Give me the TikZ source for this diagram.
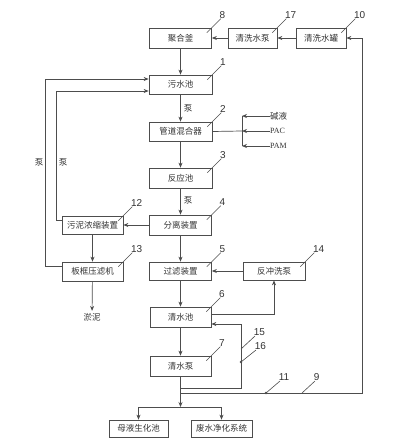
\documentclass[tikz,border=0pt]{standalone}
\usepackage{fontspec}
\setmainfont{Liberation Serif}
\newfontfamily\cjk{Noto Sans CJK SC}
\newfontfamily\numfont{Liberation Sans}
\usetikzlibrary{arrows.meta}
\definecolor{linecol}{HTML}{4D4D4D}
\definecolor{txtcol}{HTML}{333333}
\begin{document}
\begin{tikzpicture}[x=1pt,y=-1pt,
 box/.style={draw=linecol, line width=0.7pt, minimum height=20pt, inner sep=0pt, font=\cjk\fontsize{8.5}{9}\selectfont, text=txtcol},
 arr/.style={draw=linecol, line width=0.7pt, -{Stealth[length=5pt,width=4pt]}},
 plain/.style={draw=linecol, line width=0.7pt},
 num/.style={font=\numfont\fontsize{10}{11}\selectfont, text=txtcol, inner sep=0pt, anchor=south west, xshift=-1.5pt},
 lead/.style={draw=linecol, line width=0.6pt},
 lbl/.style={font=\cjk\fontsize{8.5}{9}\selectfont, text=txtcol, inner sep=0pt},
 latin/.style={font=\rmfamily\fontsize{8}{9}\selectfont, text=txtcol, inner sep=0pt},
]
\useasboundingbox (0,0) rectangle (403,447);
\fill[white] (0,0) rectangle (403,447);

% boxes
\node[box, minimum width=62pt] (n8) at (180.5,38) {聚合釜};
\node[box, minimum width=49pt] (n17) at (252.5,38) {清洗水泵};
\node[box, minimum width=50pt] (n10) at (321,38) {清洗水罐};
\node[box, minimum width=63pt, minimum height=19pt] (n1) at (180.5,84.5) {污水池};
\node[box, minimum width=63pt, minimum height=19pt] (n2) at (180.5,131.5) {管道混合器};
\node[box, minimum width=63pt] (n3) at (180.5,178) {反应池};
\node[box, minimum width=62pt] (n4) at (180.5,225) {分离装置};
\node[box, minimum width=61pt, minimum height=18pt] (n12) at (92.5,225) {污泥浓缩装置};
\node[box, minimum width=61pt, minimum height=19pt] (n13) at (92.5,271.5) {板框压滤机};
\node[box, minimum width=62pt, minimum height=18pt] (n5) at (180.5,271) {过滤装置};
\node[box, minimum width=62pt, minimum height=18pt] (n14) at (274,271) {反冲洗泵};
\node[box, minimum width=61pt] (n6) at (180.5,317) {清水池};
\node[box, minimum width=61pt] (n7) at (180.5,366) {清水泵};
\node[box, minimum width=59pt, minimum height=17pt] (n18) at (138.5,428.5) {母液生化池};
\node[box, minimum width=61pt, minimum height=17pt] (n19) at (221.5,428.5) {废水净化系统};

% free texts
\node[lbl, inner sep=2pt] (yn) at (92,317) {淤泥};
\node[lbl, anchor=west] (jy) at (270,116) {碱液};
\node[latin, anchor=west] (pac) at (270,131) {PAC};
\node[latin, anchor=west] (pam) at (270,146) {PAM};
\node[lbl] (p1) at (188,108) {泵};
\node[lbl] (p2) at (188,200) {泵};
\node[lbl] (p3) at (39,162) {泵};
\node[lbl] (p4) at (63,162) {泵};

% coordinates
\coordinate (c1) at (242,116);
\coordinate (c2) at (242,131);
\coordinate (c3) at (242,146);
\coordinate (j1) at (180.5,388);
\coordinate (j2) at (180.5,393);
\coordinate (sp) at (180.5,407);

% top row
\draw[arr] (n10) -- (n17);
\draw[arr] (n17) -- (n8);
\draw[arr] (n8) -- (n1);

% main column
\draw[arr] (n1) -- (n2);
\draw[arr] (n2) -- (n3);
\draw[arr] (n3) -- (n4);
\draw[arr] (n4) -- (n5);
\draw[arr] (n5) -- (n6);
\draw[arr] (n6) -- (n7);

% chemicals
\draw[plain] (n2.east) -- (c2);
\draw[plain] (c1) -- (c3);
\draw[arr] (jy.west) -- (c1);
\draw[arr] (pac.west) -- (c2);
\draw[arr] (pam.west) -- (c3);

% sludge
\draw[arr] (n4) -- (n12);
\draw[arr] (n12) -- (n13);
\draw[arr] (n13) -- (yn);
\draw[arr] ([yshift=5.5pt]n13.west) -- (45,266) -- (45,79) -- ([yshift=5.5pt]n1.west);
\draw[arr] ([yshift=5pt]n12.west) -- (56,220) -- (56,91) -- ([yshift=-6.5pt]n1.west);

% backwash
\draw[arr] ([yshift=3pt]n6.east) -| (n14.south);
\draw[arr] (n14) -- (n5);

% return loop
\draw[arr] (j1) -- (241,388) -- (241,324) -- ([yshift=-7pt]n6.east);
\draw[arr] (j2) -- (362,393) -- (362,38) -- (n10.east);

% outlet
\draw[arr] (n7) -- (sp);
\draw[plain] (n18.north |- sp) -- (n19.north |- sp);
\draw[arr] (n18.north |- sp) -- (n18.north);
\draw[arr] (n19.north |- sp) -- (n19.north);

% valves
\fill[linecol] (241,362) circle (1.3pt);
\fill[linecol] (266,393) circle (1.3pt);

% leader labels
\draw[lead] ([xshift=-5pt,yshift=-5pt]n8.north east) -- ++(14,-14) node[num] (l8) {8};
\draw[lead] ([xshift=-5pt,yshift=-5pt]n17.north east) -- ++(14,-14) node[num] (l17) {17};
\draw[lead] ([xshift=-5pt,yshift=-5pt]n10.north east) -- ++(14,-14) node[num] (l10) {10};
\draw[lead] ([xshift=-5pt,yshift=-5pt]n1.north east) -- ++(14,-14) node[num] (l1) {1};
\draw[lead] ([xshift=-5pt,yshift=-5pt]n2.north east) -- ++(14,-14) node[num] (l2) {2};
\draw[lead] ([xshift=-5pt,yshift=-5pt]n3.north east) -- ++(14,-14) node[num] (l3) {3};
\draw[lead] ([xshift=-5pt,yshift=-5pt]n4.north east) -- ++(14,-14) node[num] (l4) {4};
\draw[lead] ([xshift=-5pt,yshift=-5pt]n12.north east) -- ++(14,-14) node[num] (l12) {12};
\draw[lead] ([xshift=-5pt,yshift=-5pt]n13.north east) -- ++(14,-14) node[num] (l13) {13};
\draw[lead] ([xshift=-5pt,yshift=-5pt]n5.north east) -- ++(14,-14) node[num] (l5) {5};
\draw[lead] ([xshift=-5pt,yshift=-5pt]n14.north east) -- ++(14,-14) node[num] (l14) {14};
\draw[lead] ([xshift=-5pt,yshift=-5pt]n6.north east) -- ++(14,-14) node[num] (l6) {6};
\draw[lead] ([xshift=-5pt,yshift=-5pt]n7.north east) -- ++(14,-14) node[num] (l7) {7};
\draw[lead] (241,349) -- (255,336) node[num] (l15) {15};
\draw[lead] (241,362) -- (256,350) node[num] (l16) {16};
\draw[lead] (266,393) -- (280,381) node[num] (l11) {11};
\draw[lead] (302,393) -- (315,381) node[num] (l9) {9};
\end{tikzpicture}
\end{document}
